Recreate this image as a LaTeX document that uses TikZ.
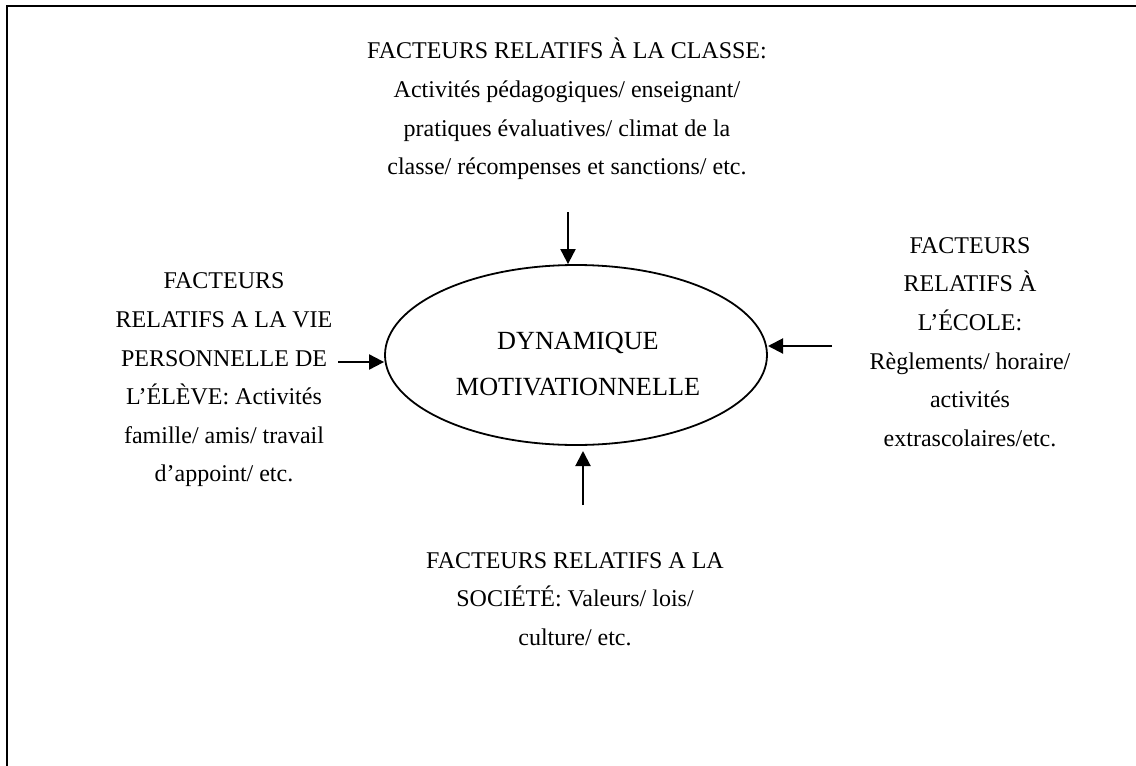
\documentclass[tikz,border=0pt]{standalone}
\usepackage{fontspec}
\setmainfont{Liberation Serif}
\usetikzlibrary{shapes.geometric,arrows.meta}
\tikzset{
  txt/.style={align=center,inner sep=0pt,font=\fontsize{12.0}{19.3}\selectfont},
  arr/.style={line width=1pt,-{Triangle[length=7.5pt,width=7.5pt]}},
  frame/.style={line width=1pt}
}
\begin{document}
\begin{tikzpicture}[x=0.5pt,y=-0.5pt]
\useasboundingbox (0,0) rectangle (1136,766);
\draw[frame] (1136,6) -- (7,6) -- (7,766);
\node[ellipse,draw,line width=0.9pt,minimum width=191pt,minimum height=90pt,inner sep=0pt] (dyn) at (576,355) {};
\node[align=center,inner sep=0pt,font=\fontsize{13.1}{23}\selectfont] (dyntxt) at (578,364) {DYNAMIQUE\\MOTIVATIONNELLE};
\node[txt] (top) at (567,109) {FACTEURS RELATIFS À LA CLASSE:\\Activités pédagogiques/ enseignant/\\pratiques évaluatives/ climat de la\\classe/ récompenses et sanctions/ etc.};
\node[txt] (left) at (224,380) {FACTEURS\\RELATIFS A LA VIE\\PERSONNELLE DE\\L’ÉLÈVE: Activités\\famille/ amis/ travail\\d’appoint/ etc.};
\node[txt] (right) at (970,342) {FACTEURS\\RELATIFS À\\L’ÉCOLE:\\Règlements/ horaire/\\activités\\extrascolaires/etc.};
\node[txt] (bot) at (575,599) {FACTEURS RELATIFS A LA\\SOCIÉTÉ: Valeurs/ lois/\\culture/ etc.};
\coordinate (ta) at (568,212);
\coordinate (la) at (338,362);
\coordinate (ra) at (832,346);
\coordinate (ba) at (583,505);
\draw[arr] (ta) -- (dyn.north -| ta);
\draw[arr] (la) -- (dyn.west |- la);
\draw[arr] (ra) -- (768,346);
\draw[arr] (ba) -- (583,451);
\end{tikzpicture}
\end{document}
